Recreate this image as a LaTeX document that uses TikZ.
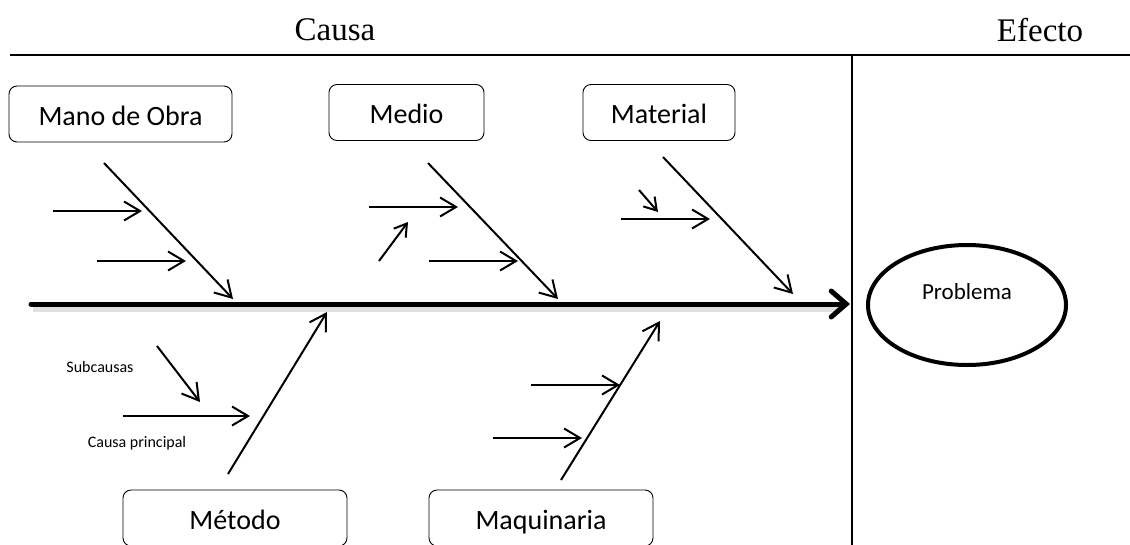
\documentclass[tikz,border=0pt]{standalone}
\usepackage{fontspec}
\usetikzlibrary{positioning, arrows.meta, shapes.geometric}
\newfontfamily\calibrif{Carlito}
\newfontfamily\timesf{Liberation Serif}

\tikzset{
    causebox/.style={draw, rounded corners=8pt, line width=0.9pt, inner sep=0pt,
        minimum height=56pt, text height=25pt, text depth=3pt,
        font=\calibrif\fontsize{28}{32}\selectfont},
    bone/.style={line width=2pt, -{Straight Barb[length=16pt, width=19pt]}},
    subarrow/.style={line width=2pt, -{Straight Barb[length=16pt, width=19pt]}},
    tinyarrow/.style={line width=2pt, -{Straight Barb[length=12pt, width=15pt]}},
    spine/.style={line width=5pt, line cap=round, -{Straight Barb[length=15pt, width=26pt, line cap=round]}},
    smalltext/.style={font=\calibrif\fontsize{16}{18}\selectfont},
    headtext/.style={font=\timesf\fontsize{33}{36}\selectfont}
}

\begin{document}
\begin{tikzpicture}[x=1pt, y=-1pt]
        \useasboundingbox (0,0) rectangle (1130,544);

        % heading
        \node[headtext] (causa) at (335,30) {Causa};
        \node[headtext] (efecto) at (1040,30) {Efecto};
        \coordinate (topl) at (10,55);
        \coordinate (topr) at (1130,55);
        \coordinate (divtop) at (852,55);
        \coordinate (divbot) at (852,546);
        \draw[line width=2pt] (topl) -- (topr);
        \draw[line width=1.5pt] (divtop) -- (divbot);

        % main causes
        \node[causebox, minimum width=223pt] (mano) at (120.5,114) {Mano de Obra};
        \node[causebox, minimum width=155pt] (medio) at (406.5,112.5) {Medio};
        \node[causebox, minimum width=152pt] (material) at (659,112.5) {Material};
        \node[causebox, minimum width=224pt] (metodo) at (235,518) {Método};
        \node[causebox, minimum width=224pt] (maquinaria) at (541,518) {Maquinaria};

        % effect
        \node[draw, ellipse, line width=4pt, minimum width=198pt, minimum height=120pt] (problema) at (967,305) {};
        \node[font=\calibrif\fontsize{23}{26}\selectfont] (problematxt) at (967,292) {Problema};

        % spine
        \coordinate (spinea) at (31,304);
        \coordinate (spineb) at (850,304);
        \draw[line width=5pt, black!12] (33,309) -- (838,309);
        \draw[spine] (spinea) -- (spineb);

        % bones
        \foreach \name/\sx/\sy/\ex/\ey in {mano/104/163/233/299,
                                           medio/428/163/558/299,
                                           material/663/157/793/294,
                                           metodo/228/474/327/312,
                                           maquinaria/561/480/660/321}
        {
            \coordinate (\name-s) at (\sx,\sy);
            \coordinate (\name-e) at (\ex,\ey);
            \draw[bone] (\name-s) -- (\name-e);
        }

        % sub causes
        \foreach \i/\sx/\sy/\ex/\ey in {1/53/211/142/211,
                                        2/97/261/186/261,
                                        3/369/207/458/207,
                                        4/429/261/518/261,
                                        5/621/219/710/219,
                                        6/123/416/250/416,
                                        7/157/346/200/402,
                                        8/531/385/620/385,
                                        9/493/438/582/438}
        {
            \coordinate (sub\i-s) at (\sx,\sy);
            \coordinate (sub\i-e) at (\ex,\ey);
            \draw[subarrow] (sub\i-s) -- (sub\i-e);
        }
        % small ones
        \coordinate (tinya-s) at (379,261);
        \coordinate (tinya-e) at (408,222);
        \coordinate (tinyb-s) at (639,190);
        \coordinate (tinyb-e) at (658,212);
        \draw[tinyarrow] (tinya-s) -- (tinya-e);
        \draw[tinyarrow] (tinyb-s) -- (tinyb-e);

        % legend
        \node[smalltext] (subcausas) at (100,367) {Subcausas};
        \node[smalltext] (principal) at (137,443) {Causa principal};
\end{tikzpicture}
\end{document}
